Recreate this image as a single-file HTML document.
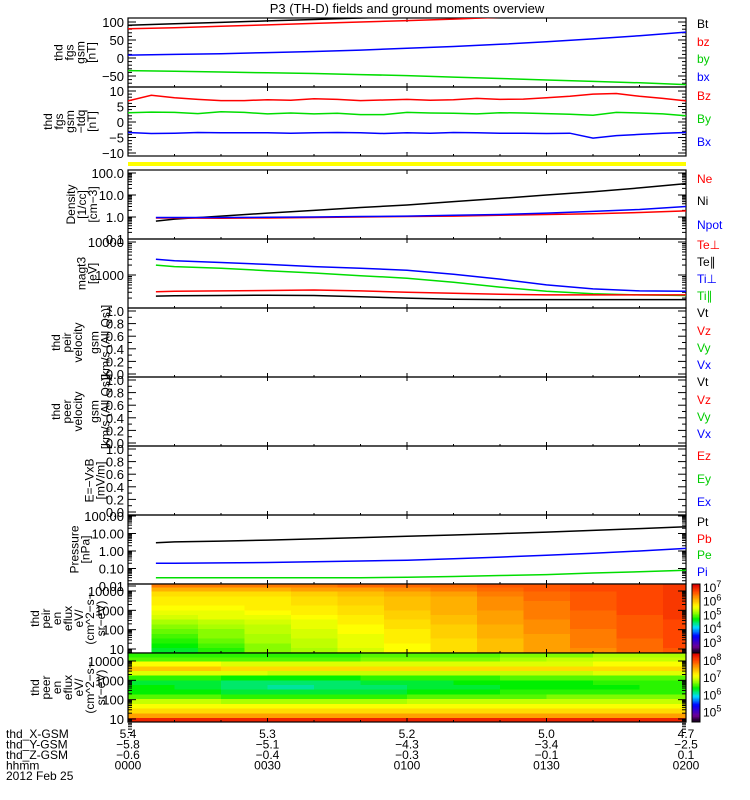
<!DOCTYPE html>
<html><head><meta charset="utf-8"><style>
body{margin:0;background:#fff;}
svg{display:block;font-family:"Liberation Sans",sans-serif;}
text{font-size:11px;}
</style></head><body>
<svg id="c" width="750" height="800" viewBox="0 0 750 800">
<text x="407" y="13" text-anchor="middle" style="font-size:13px">P3 (TH-D) fields and ground moments overview</text>
</svg>
<script>
// ---------- data ----------
const tickTimes=[0,30,60,90,120];
const tickHHMM=["0000","0030","0100","0130","0200"];
const tickX=["5.4","5.3","5.2","5.0","4.7"];
const tickY=["-5.8","-5.1","-4.3","-3.4","-2.5"];
const tickZ=["-0.6","-0.4","-0.3","-0.1","0.1"];
const t10=[0,10,20,30,40,50,60,70,80,90,100,110,120];
const bBt=[91,95,99,103,107,111,115,119,124,129,134,140,146];
const bBz=[81,84,88,92,96,100,104,108,113,118,123,129,135];
const bBy=[-35,-37,-39,-41,-43,-46,-49,-53,-57,-61,-65,-69,-74];
const bBx=[8,10,12,15,18,22,27,32,38,45,53,62,72];
const t5=[0,5,10,15,20,25,30,35,40,45,50,55,60,65,70,75,80,85,90,95,100,105,110,115,120];
const dBz=[6.8,8.6,7.8,7.3,6.9,6.9,7.2,7.0,7.5,7.3,6.9,7.1,7.3,7.0,7.2,7.6,7.3,7.4,7.8,8.3,9.0,9.2,8.3,7.6,6.8];
const dBy=[3.0,3.2,3.1,2.7,3.3,3.1,2.6,2.9,2.6,2.8,2.4,2.4,3.1,2.9,2.8,2.6,3.0,2.9,2.7,2.5,2.2,3.1,2.9,2.6,2.0];
const dBx=[-3.4,-3.7,-3.6,-3.4,-3.5,-3.5,-3.5,-3.6,-3.5,-3.4,-3.5,-3.7,-3.5,-3.6,-3.4,-3.5,-3.6,-3.6,-3.7,-3.6,-5.2,-4.4,-4.0,-3.6,-3.4];
const tMom=[6,10,20,30,40,50,60,70,80,90,100,110,120];
const nNe=[0.9,0.9,0.88,0.9,0.95,1.0,1.05,1.1,1.2,1.3,1.4,1.6,1.9];
const nNi=[0.65,0.8,1.1,1.5,2.0,2.7,3.5,5,7,10,14,21,33];
const nNpot=[0.95,0.95,0.95,0.97,1.0,1.05,1.1,1.2,1.3,1.5,1.8,2.2,3.0];
const tTe_perp=[310,320,330,340,350,330,300,280,260,250,250,250,250];
const tTe_par=[230,235,240,245,240,220,200,185,180,180,180,180,180];
const tTi_perp=[3000,2700,2400,2100,1800,1600,1400,1050,750,500,380,330,320];
const tTi_par=[2000,1800,1600,1350,1150,950,800,600,430,320,270,250,240];
const pPt=[3.0,3.3,3.7,4.2,4.9,5.8,6.9,8.2,9.9,12,15,19,24];
const pPi=[0.2,0.2,0.21,0.22,0.24,0.27,0.3,0.36,0.45,0.57,0.75,1.0,1.4];
const pPe=[0.03,0.03,0.03,0.03,0.03,0.03,0.032,0.035,0.04,0.045,0.055,0.065,0.08];
const specE=[20000,12000,7000,4000,2300,1300,750,430,250,140,80,45,26,15,8.5];
const ionT=[5,15,25,35,45,55,65,75,85,95,105,115];
const ionFlux=[
[6.2,6.2,6.2,6.2,6.3,6.3,6.3,6.4,6.4,6.5,6.5,6.6],
[5.9,5.9,5.9,6.0,6.0,6.1,6.2,6.3,6.4,6.5,6.5,6.6],
[5.6,5.6,5.6,5.7,5.8,5.9,6.0,6.2,6.3,6.4,6.5,6.6],
[5.5,5.5,5.5,5.6,5.7,5.8,5.9,6.1,6.3,6.4,6.5,6.6],
[5.5,5.5,5.5,5.6,5.7,5.8,5.9,6.1,6.2,6.4,6.5,6.6],
[5.4,5.4,5.5,5.5,5.6,5.8,5.9,6.1,6.2,6.4,6.5,6.6],
[5.3,5.3,5.4,5.5,5.6,5.7,5.9,6.0,6.2,6.3,6.5,6.6],
[5.2,5.3,5.3,5.4,5.5,5.7,5.8,6.0,6.2,6.3,6.4,6.6],
[5.0,5.1,5.2,5.3,5.5,5.6,5.8,6.0,6.1,6.3,6.4,6.5],
[4.9,5.0,5.1,5.3,5.4,5.6,5.7,5.9,6.1,6.3,6.4,6.5],
[4.8,4.9,5.1,5.2,5.4,5.5,5.7,5.9,6.1,6.2,6.4,6.5],
[4.7,4.9,5.0,5.2,5.3,5.5,5.7,5.9,6.0,6.2,6.4,6.5],
[4.6,4.8,5.0,5.1,5.3,5.5,5.6,5.8,6.0,6.2,6.3,6.5],
[4.5,4.7,4.9,5.1,5.3,5.4,5.6,5.8,6.0,6.2,6.3,6.5],
[4.4,4.6,4.9,5.0,5.2,5.4,5.6,5.8,6.0,6.1,6.3,6.4]];
const eleT=[0,10,20,30,40,50,60,70,80,90,100,110];
const eleFlux=[
[6.5,6.5,6.5,6.5,6.5,6.6,6.6,6.6,6.7,6.7,6.8,6.8],
[6.6,6.6,6.6,6.6,6.6,6.7,6.7,6.7,6.8,6.9,6.9,6.9],
[7.1,7.1,7.0,7.0,7.0,7.0,7.0,7.0,7.0,7.0,7.1,7.1],
[7.4,7.4,7.3,7.3,7.3,7.3,7.3,7.3,7.3,7.3,7.3,7.3],
[7.0,7.0,7.0,6.9,6.9,6.9,6.9,6.9,6.9,6.9,7.0,7.0],
[6.5,6.5,6.4,6.4,6.4,6.5,6.5,6.5,6.6,6.6,6.6,6.6],
[6.3,6.3,6.2,6.2,6.2,6.3,6.3,6.4,6.4,6.4,6.5,6.5],
[6.4,6.3,6.2,6.1,6.2,6.2,6.3,6.3,6.4,6.4,6.4,6.5],
[6.4,6.4,6.3,6.3,6.3,6.3,6.4,6.4,6.5,6.5,6.5,6.5],
[6.6,6.6,6.5,6.5,6.5,6.5,6.6,6.6,6.6,6.7,6.7,6.7],
[6.9,6.9,6.8,6.8,6.8,6.8,6.9,6.9,6.9,6.9,6.9,6.9],
[7.1,7.1,7.1,7.1,7.1,7.1,7.1,7.1,7.1,7.1,7.1,7.1],
[7.3,7.3,7.3,7.3,7.3,7.3,7.3,7.3,7.3,7.3,7.3,7.3],
[7.6,7.6,7.6,7.6,7.6,7.6,7.6,7.6,7.6,7.6,7.6,7.6],
[8.2,8.2,8.2,8.2,8.2,8.2,8.2,8.2,8.2,8.2,8.2,8.2]];

// ---------- helpers ----------
const svg=document.getElementById('c');
const NS='http://www.w3.org/2000/svg';
const L=128,R=686;
function X(t){return L+t/120*(R-L);}
function mk(tag,attrs,parent){const e=document.createElementNS(NS,tag);for(const k in attrs)e.setAttribute(k,attrs[k]);(parent||svg).appendChild(e);return e;}
function txt(x,y,s,opt,parent){const e=mk('text',Object.assign({x:x,y:y},opt||{}),parent);e.textContent=s;return e;}
function linY(v0,y0,v1,y1){return v=>y0+(v-v0)*(y1-y0)/(v1-v0);}
function logY(v0,y0,v1,y1){const a=Math.log10(v0),b=Math.log10(v1);return v=>y0+(Math.log10(v)-a)*(y1-y0)/(b-a);}
function line(ts,vs,yf,color,top,bot,name){
  const g=mk('g',{'clip-path':'url(#cl'+top+')'});
  
  
  let d='';
  for(let i=0;i<ts.length;i++){const x=X(ts[i]).toFixed(1),y=yf(vs[i]).toFixed(1);
    d+=(i===0?'M':' L')+x+' '+y;}
  mk('path',{d:d,fill:'none',stroke:color,'stroke-width':1.5},g);
}
const defs=mk('defs',{});
function clip(top,bot){const c=mk('clipPath',{id:'cl'+top},defs);mk('rect',{x:L,y:top,width:R-L,height:bot-top},c);}
function frame(top,bot,name){
  clip(top,bot);
  const r=mk('rect',{x:L,y:top,width:R-L,height:bot-top,fill:'none',stroke:'#000','stroke-width':1.2});
  
  
  tickTimes.forEach(t=>{mk('line',{x1:X(t),x2:X(t),y1:top,y2:top+4,stroke:'#000'});mk('line',{x1:X(t),x2:X(t),y1:bot,y2:bot-4,stroke:'#000'});});
  for(let t=10;t<120;t+=10){mk('line',{x1:X(t),x2:X(t),y1:bot,y2:bot-2,stroke:'#000'});}
}
function yTicks(vals,labels,yf,minor){
  vals.forEach((v,i)=>{const y=yf(v);mk('line',{x1:L,x2:L+8,y1:y,y2:y,stroke:'#000'});mk('line',{x1:R,x2:R-8,y1:y,y2:y,stroke:'#000'});
    const t=txt(124,y+5,labels[i],{'text-anchor':'end',style:'font-size:13px'});
    });
  (minor||[]).forEach(v=>{const y=yf(v);mk('line',{x1:L,x2:L+4,y1:y,y2:y,stroke:'#000'});mk('line',{x1:R,x2:R-4,y1:y,y2:y,stroke:'#000'});});
}
function logMinor(a,b){const r=[];for(let e=a;e<b;e++)for(let k=2;k<10;k++)r.push(k*Math.pow(10,e));return r;}
function ylabel(lines,top,bot,xc,name){
  const yc=(top+bot)/2;const g=mk('g',{transform:'translate('+xc+','+yc+') rotate(-90)'});
  
  lines.forEach((s,i)=>{txt(0,(i-(lines.length-1)/2)*11+4,s,{'text-anchor':'middle',style:'font-size:12px'},g);});
}
function rlabel(y,s,color,name){const t=txt(697,y,s,{fill:color,style:'font-size:12px'});}
const stops=[[0,0,0,0],[0.1,110,0,150],[0.25,0,0,255],[0.38,0,220,255],[0.5,0,240,0],[0.6,170,255,0],[0.68,255,255,0],[0.8,255,160,0],[0.9,255,70,0],[1,220,0,0]];
function cmap(f){f=Math.max(0,Math.min(1,f));for(let i=1;i<stops.length;i++){if(f<=stops[i][0]){const a=stops[i-1],b=stops[i],u=(f-a[0])/(b[0]-a[0]);return 'rgb('+[1,2,3].map(k=>Math.round(a[k]+u*(b[k]-a[k]))).join(',')+')';}}return 'rgb(220,0,0)';}
function spectro(ts,tEnd,grid,yf,top,bot,lo,hi,name){
  const g=mk('g',{'clip-path':'url(#cl'+top+')','shape-rendering':'crispEdges'});
  
  for(let j=0;j<ts.length;j++){const x0=X(ts[j]),x1=X(j+1<ts.length?ts[j+1]:tEnd);
    for(let i=0;i<specE.length;i++){
      const eU=i===0?specE[0]*2:Math.sqrt(specE[i]*specE[i-1]);
      const eL=i===specE.length-1?specE[i]/2:Math.sqrt(specE[i]*specE[i+1]);
      const y0=yf(eU),y1=yf(eL);
      const c=mk('rect',{x:x0,y:y0,width:x1-x0+0.5,height:y1-y0+0.5,fill:cmap((grid[i][j]-lo)/(hi-lo))},g);
      }}
}
function colorbar(top,bot,lo,hi,labs,name){
  const g=mk('g',{'shape-rendering':'crispEdges'});
  const n=60;for(let k=0;k<n;k++){mk('rect',{x:692,y:bot-(k+1)*(bot-top)/n,width:8,height:(bot-top)/n+0.6,fill:cmap((k+0.5)/n)},g);}
  mk('rect',{x:692,y:top,width:8,height:bot-top,fill:'none',stroke:'#000'},g);
  labs.forEach(e=>{const y=bot-(e-lo)/(hi-lo)*(bot-top);const t=txt(703,y+5,'10',{style:'font-size:12px'},g);const s=mk('tspan',{dy:-5,style:'font-size:9px'},t);s.textContent=e;});
}

// ---------- panel 1: fgs gsm ----------
let y1=linY(100,22,-50,76);
frame(18,87,'panel-fgs-gsm');
yTicks([100,50,0,-50],['100','50','0','\u221250'],y1,[90,80,70,60,40,30,20,10,-10,-20,-30,-40,-60,-70]);
line(t10,bBt,y1,'#000',18,87,'series-bt');line(t10,bBz,y1,'#f00',18,87,'series-bz');
line(t10,bBy,y1,'#0d0',18,87,'series-by');line(t10,bBx,y1,'#00f',18,87,'series-bx');
ylabel(['thd','fgs','gsm','[nT]'],18,87,75,'y-axis-title-fgs');
rlabel(28,'Bt','#000','legend-bt');rlabel(46,'bz','#f00','legend-bz');rlabel(63,'by','#0c0','legend-by');rlabel(81,'bx','#00f','legend-bx');
// ---------- panel 2: detrended ----------
let y2=linY(10,91,-10,153);
frame(87,156,'panel-fgs-dtrend');
yTicks([10,5,0,-5,-10],['10','5','0','\u22125','\u221210'],y2,[9,8,7,6,4,3,2,1,-1,-2,-3,-4,-6,-7,-8,-9]);
line(t5,dBz,y2,'#f00',87,156,'series-dbz');line(t5,dBy,y2,'#0d0',87,156,'series-dby');line(t5,dBx,y2,'#00f',87,156,'series-dbx');
ylabel(['thd','fgs','gsm','\u2212tdq','[nT]'],87,156,70,'y-axis-title-dtrend');
rlabel(100,'Bz','#f00','legend-dbz');rlabel(123,'By','#0c0','legend-dby');rlabel(146,'Bx','#00f','legend-dbx');
// ---------- yellow bar ----------
mk('line',{x1:L,x2:R,y1:170,y2:170,stroke:'#000'});
const yb=mk('rect',{x:L,y:162,width:R-L,height:4,fill:'#ff0'});
// ---------- density ----------
let y3=logY(1,217,100,173);
frame(170,239,'panel-density');
yTicks([100,10,1,0.1],['100.0','10.0','1.0','0.1'],y3,logMinor(-1,2));
line(tMom,nNi,y3,'#000',170,239,'series-ni');line(tMom,nNe,y3,'#f00',170,239,'series-ne');line(tMom,nNpot,y3,'#00f',170,239,'series-npot');
ylabel(['Density','[1/cc]','[cm\u22123]'],170,239,82,'y-axis-title-density');
rlabel(183,'Ne','#f00','legend-ne');rlabel(205,'Ni','#000','legend-ni');rlabel(229,'Npot','#00f','legend-npot');
// ---------- temperature ----------
let y4=logY(100,308,10000,242);
frame(239,308,'panel-temperature');
yTicks([10000,1000],['10000','1000'],y4,logMinor(2,4));
line(tMom,tTi_perp,y4,'#00f',239,308,'series-ti-perp');line(tMom,tTi_par,y4,'#0d0',239,308,'series-ti-par');
line(tMom,tTe_perp,y4,'#f00',239,308,'series-te-perp');line(tMom,tTe_par,y4,'#000',239,308,'series-te-par');
ylabel(['magt3','[eV]'],239,308,87,'y-axis-title-temp');
rlabel(249,'Te\u22a5','#f00','legend-te-perp');rlabel(266,'Te\u2225','#000','legend-te-par');rlabel(283,'Ti\u22a5','#00f','legend-ti-perp');rlabel(300,'Ti\u2225','#0c0','legend-ti-par');
// ---------- velocity & E panels ----------
const lin01=[1,0.8,0.6,0.4,0.2,0],lab01=['1.0','0.8','0.6','0.4','0.2','0.0'],min01=[0.9,0.7,0.5,0.3,0.1];
[[308,377,'peir'],[377,446,'peer']].forEach((p,i)=>{
  frame(p[0],p[1],'panel-velocity-'+p[2]);yTicks(lin01,lab01,linY(1,p[0]+3,0,p[1]-3),min01);
  ylabel(['thd',p[2],'velocity'],p[0],p[1],67,'y-axis-title-velocity-'+p[2]);
  ylabel(['gsm','[km/s (All Qs)]'],p[0],p[1],100,'y-axis-units-velocity-'+p[2]);
  rlabel(p[0]+9,'Vt','#000','legend-vt');rlabel(p[0]+27,'Vz','#f00','legend-vz');rlabel(p[0]+44,'Vy','#0c0','legend-vy');rlabel(p[0]+61,'Vx','#00f','legend-vx');
});
frame(446,515,'panel-efield');yTicks(lin01,lab01,linY(1,449,0,512),min01);
ylabel(['E=\u2212VxB','[mV/m]'],446,515,95,'y-axis-title-efield');
rlabel(460,'Ez','#f00','legend-ez');rlabel(483,'Ey','#0c0','legend-ey');rlabel(506,'Ex','#00f','legend-ex');
// ---------- pressure ----------
let y5=logY(1,551,100,516);
frame(515,584,'panel-pressure');
yTicks([100,10,1,0.1,0.01],['100.00','10.00','1.00','0.10','0.01'],y5,logMinor(-2,2));
line(tMom,pPt,y5,'#000',515,584,'series-pt');line(tMom,pPi,y5,'#00f',515,584,'series-pi');line(tMom,pPe,y5,'#0d0',515,584,'series-pe');
ylabel(['Pressure','[nPa]'],515,584,80,'y-axis-title-pressure');
rlabel(526,'Pt','#000','legend-pt');rlabel(543,'Pb','#f00','legend-pb');rlabel(559,'Pe','#0c0','legend-pe');rlabel(576,'Pi','#00f','legend-pi');
// ---------- spectrograms ----------
let y6=logY(10,649,10000,591);
spectro(ionT,120,ionFlux,y6,584,653,2.0,7.0,'ion-spectrogram');
frame(584,653,'panel-ion-eflux');
yTicks([10000,1000,100,10],['10000','1000','100','10'],y6,logMinor(0,4));
ylabel(['thd','peir','en','eflux','eV/','(cm^2\u2212s\u2212','sr\u2212eV)'],584,653,68,'y-axis-title-ion');
colorbar(584,653,2.2,7.2,[7,6,5,4,3],'colorbar-ion');
let y7=logY(10,719,10000,661);
spectro(eleT,120,eleFlux,y7,653,722,4.4,8.4,'electron-spectrogram');
frame(653,722,'panel-electron-eflux');
yTicks([10000,1000,100,10],['10000','1000','100','10'],y7,logMinor(0,4));
ylabel(['thd','peer','en','eflux','eV/','(cm^2\u2212s\u2212','sr\u2212eV)'],653,722,68,'y-axis-title-electron');
colorbar(653,722,4.4,8.4,[8,7,6,5],'colorbar-electron');
// ---------- bottom axis labels ----------
const rows=[['thd_X-GSM',tickX],['thd_Y-GSM',tickY],['thd_Z-GSM',tickZ],['hhmm',tickHHMM]];
rows.forEach((r,i)=>{const y=738+i*10.5;
  const t=txt(6,y,r[0],{style:'font-size:12px'});
  r[1].forEach((s,k)=>{const e=txt(X(tickTimes[k]),y,s.replace('-','\u2212'),{'text-anchor':'middle',style:'font-size:12px'});
    });});
const dt=txt(6,780,'2012 Feb 25',{style:'font-size:12px'});
</script>
</body></html>
